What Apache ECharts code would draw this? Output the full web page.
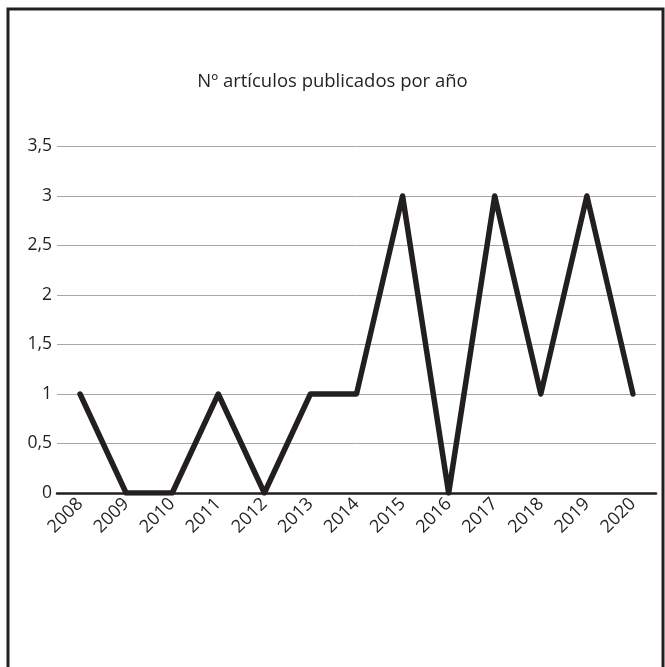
<!DOCTYPE html>
<html><head><meta charset="utf-8">
<script src="https://cdn.jsdelivr.net/npm/echarts@6/dist/echarts.min.js"></script>
<style>html,body{margin:0;padding:0;background:#fff}#c{width:665px;height:667px}</style>
</head><body><div id="c"></div>
<script>
const years = ['2008','2009','2010','2011','2012','2013','2014','2015','2016','2017','2018','2019','2020'];
const articles = [1,0,0,1,0,1,1,3,0,3,1,3,1];
const titleText = 'Nº artículos publicados por año';
const yTicks = [0,0.5,1,1.5,2,2.5,3,3.5];

const chart = echarts.init(document.getElementById('c'));
const font = '"Open Sans", "Noto Sans", sans-serif';
chart.setOption({
  animation: false,
  backgroundColor: '#fff',
  title: {text: titleText, left: 'center', top: 67,
    textStyle: {fontFamily: font, fontSize: 18.5, fontWeight: 'normal', color: '#231f20'}},
  graphic: [{type: 'rect', shape: {x: 8, y: 9, width: 655, height: 680},
    style: {fill: 'none', stroke: '#231f20', lineWidth: 3}, z: 100}],
  grid: {left: 57, width: 599, top: 146.5, height: 346.5},
  xAxis: {type: 'category', data: years, boundaryGap: true,
    axisLine: {lineStyle: {color: '#231f20', width: 2.5}},
    axisTick: {show: false},
    axisLabel: {rotate: 45, margin: 8, fontFamily: font, fontSize: 18, color: '#231f20'}},
  yAxis: {type: 'value', min: 0, max: 3.5, interval: 0.5,
    axisLine: {show: false}, axisTick: {show: false},
    splitLine: {lineStyle: {color: '#a6a6a6', width: 1}},
    axisLabel: {margin: 5, fontFamily: font, fontSize: 17.5, color: '#231f20',
      formatter: v => String(v).replace('.', ',')}},
  series: [{type: 'line', data: articles, symbol: 'none',
    lineStyle: {color: '#231f20', width: 5.5, join: 'round', cap: 'round'}}]
});
</script></body></html>
